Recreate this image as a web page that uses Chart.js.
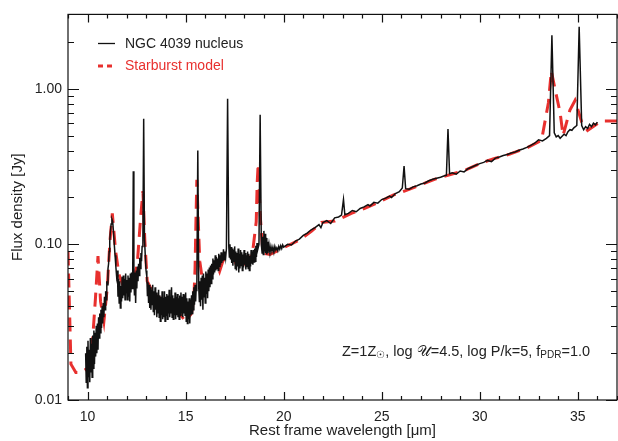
<!DOCTYPE html>
<html>
<head>
<meta charset="utf-8">
<script src="https://cdn.jsdelivr.net/npm/chart.js@4/dist/chart.umd.min.js"></script>
<style>
  html, body { margin: 0; padding: 0; background: #fff; }
</style>
</head>
<body>
<canvas id="spectrum" width="618" height="441"></canvas>
<script>
// NGC 4039 nucleus spectrum (wavelength in micron, flux in Jy)
const waveNGC = [
  9.90, 9.93, 9.96, 9.99, 10.02, 10.05, 10.08, 10.11, 10.14, 10.17,
  10.20, 10.23, 10.26, 10.29, 10.32, 10.35, 10.38, 10.41, 10.44, 10.47,
  10.50, 10.53, 10.56, 10.59, 10.62, 10.65, 10.68, 10.71, 10.74, 10.77,
  10.80, 10.83, 10.86, 10.89, 10.92, 10.95, 10.98, 11.01, 11.04, 11.07,
  11.10, 11.13, 11.16, 11.20, 11.24, 11.28, 11.32, 11.36, 11.40, 11.44,
  11.48, 11.52, 11.55, 11.58, 11.61, 11.64, 11.67, 11.70, 11.73, 11.76,
  11.79, 11.82, 11.85, 11.88, 11.91, 11.94, 11.97, 12.00, 12.03, 12.06,
  12.09, 12.12, 12.15, 12.18, 12.21, 12.24, 12.27, 12.30, 12.33, 12.36,
  12.39, 12.42, 12.45, 12.48, 12.51, 12.54, 12.57, 12.60, 12.63, 12.66,
  12.69, 12.72, 12.75, 12.78, 12.82, 12.86, 12.90, 12.94, 12.98, 13.02,
  13.05, 13.08, 13.11, 13.14, 13.17, 13.20, 13.23, 13.26, 13.29, 13.32,
  13.35, 13.38, 13.41, 13.44, 13.47, 13.50, 13.53, 13.56, 13.59, 13.62,
  13.65, 13.68, 13.71, 13.74, 13.77, 13.80, 13.83, 13.86, 13.89, 13.92,
  13.95, 13.98, 14.01, 14.04, 14.07, 14.10, 14.13, 14.16, 14.19, 14.22,
  14.25, 14.28, 14.31, 14.34, 14.37, 14.40, 14.43, 14.46, 14.49, 14.52,
  14.55, 14.58, 14.61, 14.64, 14.67, 14.70, 14.73, 14.76, 14.79, 14.82,
  14.85, 14.88, 14.91, 14.94, 14.97, 15.00, 15.03, 15.06, 15.09, 15.12,
  15.15, 15.18, 15.21, 15.24, 15.27, 15.30, 15.33, 15.36, 15.39, 15.42,
  15.45, 15.48, 15.51, 15.54, 15.57, 15.62, 15.67, 15.70, 15.73, 15.76,
  15.79, 15.82, 15.85, 15.88, 15.91, 15.94, 15.97, 16.00, 16.03, 16.06,
  16.09, 16.12, 16.15, 16.18, 16.21, 16.24, 16.27, 16.30, 16.33, 16.36,
  16.39, 16.42, 16.45, 16.48, 16.51, 16.54, 16.57, 16.60, 16.63, 16.66,
  16.69, 16.72, 16.75, 16.78, 16.81, 16.84, 16.87, 16.90, 16.93, 16.96,
  17.00, 17.04, 17.08, 17.14, 17.20, 17.23, 17.26, 17.29, 17.32, 17.35,
  17.38, 17.41, 17.44, 17.47, 17.50, 17.53, 17.56, 17.59, 17.62, 17.65,
  17.68, 17.71, 17.74, 17.77, 17.80, 17.83, 17.86, 17.89, 17.92, 17.95,
  17.98, 18.01, 18.04, 18.07, 18.10, 18.13, 18.16, 18.19, 18.22, 18.25,
  18.28, 18.31, 18.34, 18.37, 18.40, 18.43, 18.46, 18.49, 18.52, 18.55,
  18.58, 18.61, 18.64, 18.68, 18.74, 18.80, 18.86, 18.90, 18.93, 18.96,
  18.99, 19.02, 19.05, 19.08, 19.11, 19.14, 19.17, 19.20, 19.25, 19.30,
  19.35, 19.40, 19.45, 19.50, 19.55, 19.60, 19.65, 19.70, 19.75, 19.80,
  19.85, 19.90, 19.95,
  20.0, 20.2, 20.4, 20.6, 20.8, 21.0, 21.2, 21.4, 21.6, 21.8,
  21.9, 22.0, 22.2, 22.4, 22.6, 22.8, 22.95, 23.05, 23.12, 23.3,
  23.5, 23.7, 23.9, 24.1, 24.3, 24.4, 24.6, 24.8, 25.0, 25.2,
  25.4, 25.5, 25.7, 25.9, 26.05, 26.14, 26.22, 26.4, 26.6, 26.8,
  27.0, 27.2, 27.4, 27.6, 27.8, 28.0, 28.2, 28.3, 28.38, 28.46,
  28.6, 28.8, 29.0, 29.2, 29.4, 29.6, 29.8, 30.0, 30.2, 30.4,
  30.6, 30.8, 31.0, 31.2, 31.4, 31.6, 31.8, 32.0, 32.2, 32.4,
  32.6, 32.8, 33.0, 33.2, 33.4, 33.56, 33.68, 33.8, 33.9, 34.0,
  34.1, 34.2, 34.3, 34.4, 34.5, 34.6, 34.7, 34.8, 34.95, 35.07,
  35.2, 35.3, 35.4, 35.5, 35.6, 35.7, 35.8, 35.9, 36.0
];
const fluxNGC = [
  0.020, 0.013, 0.022, 0.012, 0.024, 0.014, 0.021, 0.013, 0.025, 0.015,
  0.023, 0.014, 0.026, 0.016, 0.028, 0.017, 0.027, 0.019, 0.030, 0.020,
  0.031, 0.021, 0.034, 0.025, 0.036, 0.027, 0.038, 0.029, 0.040, 0.031,
  0.042, 0.034, 0.046, 0.038, 0.050, 0.044, 0.058, 0.055, 0.070, 0.075,
  0.090, 0.105, 0.120, 0.135, 0.145, 0.140, 0.120, 0.100, 0.085, 0.072,
  0.062, 0.068, 0.046, 0.060, 0.042, 0.058, 0.039, 0.054, 0.043, 0.062,
  0.045, 0.063, 0.047, 0.060, 0.044, 0.065, 0.049, 0.059, 0.044, 0.063,
  0.046, 0.061, 0.043, 0.065, 0.049, 0.066, 0.052, 0.062, 0.295, 0.060,
  0.047, 0.066, 0.042, 0.068, 0.052, 0.072, 0.058, 0.075, 0.063, 0.082,
  0.070, 0.088, 0.078, 0.097, 0.110, 0.640, 0.110, 0.085, 0.068, 0.062,
  0.047, 0.057, 0.042, 0.055, 0.039, 0.053, 0.038, 0.051, 0.041, 0.055,
  0.037, 0.050, 0.035, 0.053, 0.038, 0.049, 0.034, 0.047, 0.036, 0.051,
  0.034, 0.047, 0.032, 0.046, 0.035, 0.050, 0.033, 0.045, 0.034, 0.050,
  0.032, 0.046, 0.035, 0.048, 0.033, 0.047, 0.036, 0.051, 0.034, 0.046,
  0.036, 0.053, 0.034, 0.047, 0.033, 0.045, 0.035, 0.049, 0.033, 0.046,
  0.035, 0.048, 0.034, 0.045, 0.033, 0.047, 0.035, 0.049, 0.036, 0.046,
  0.034, 0.048, 0.036, 0.047, 0.035, 0.049, 0.032, 0.045, 0.031, 0.043,
  0.033, 0.045, 0.031, 0.044, 0.035, 0.047, 0.036, 0.050, 0.038, 0.053,
  0.041, 0.055, 0.043, 0.053, 0.050, 0.400, 0.052, 0.043, 0.058, 0.040,
  0.061, 0.044, 0.063, 0.038, 0.065, 0.046, 0.061, 0.042, 0.067, 0.048,
  0.065, 0.045, 0.069, 0.050, 0.071, 0.053, 0.073, 0.056, 0.075, 0.060,
  0.081, 0.064, 0.079, 0.066, 0.085, 0.068, 0.083, 0.070, 0.081, 0.068,
  0.087, 0.072, 0.085, 0.074, 0.089, 0.076, 0.087, 0.078, 0.093, 0.080,
  0.090, 0.082, 0.094, 0.860, 0.097, 0.083, 0.100, 0.080, 0.096, 0.076,
  0.094, 0.073, 0.092, 0.078, 0.097, 0.070, 0.090, 0.068, 0.088, 0.072,
  0.094, 0.066, 0.087, 0.070, 0.092, 0.073, 0.089, 0.068, 0.086, 0.071,
  0.092, 0.074, 0.088, 0.069, 0.085, 0.072, 0.090, 0.070, 0.087, 0.068,
  0.084, 0.072, 0.092, 0.075, 0.090, 0.074, 0.092, 0.077, 0.094, 0.078,
  0.098, 0.083, 0.102, 0.093, 0.100, 0.680, 0.100, 0.088, 0.112, 0.086,
  0.122, 0.090, 0.117, 0.088, 0.110, 0.086, 0.104, 0.088, 0.100, 0.088,
  0.097, 0.090, 0.096, 0.089, 0.097, 0.092, 0.095, 0.091, 0.097, 0.093,
  0.098, 0.094, 0.099,
  0.096, 0.100, 0.099, 0.105, 0.108, 0.114, 0.118, 0.124, 0.128, 0.134,
  0.128, 0.138, 0.142, 0.136, 0.148, 0.150, 0.154, 0.194, 0.155, 0.158,
  0.165, 0.162, 0.170, 0.174, 0.180, 0.176, 0.186, 0.184, 0.194, 0.198,
  0.204, 0.200, 0.212, 0.218, 0.230, 0.318, 0.228, 0.226, 0.234, 0.238,
  0.244, 0.248, 0.256, 0.262, 0.266, 0.270, 0.276, 0.278, 0.550, 0.284,
  0.288, 0.282, 0.296, 0.292, 0.306, 0.314, 0.322, 0.330, 0.336, 0.346,
  0.340, 0.358, 0.364, 0.372, 0.378, 0.386, 0.392, 0.402, 0.410, 0.420,
  0.432, 0.446, 0.470, 0.462, 0.480, 0.500, 2.200, 0.520, 0.490, 0.500,
  0.480, 0.495, 0.510, 0.500, 0.530, 0.545, 0.540, 0.560, 0.580, 2.500,
  0.580, 0.545, 0.570, 0.555, 0.590, 0.570, 0.600, 0.585, 0.610
];

// Starburst model
const waveModel = [
  9.00, 9.15, 9.40, 9.65, 10.00, 10.15, 10.24, 10.40, 10.53, 10.66,
  10.83, 11.00, 11.14, 11.26, 11.43, 11.60, 11.77, 12.03, 12.36, 12.53,
  12.70, 12.82, 12.92, 13.04, 13.37, 13.72, 14.15, 14.49, 14.67, 15.00,
  15.30, 15.42, 15.48, 15.52, 15.57, 15.65, 15.72, 15.92, 16.15, 16.32,
  16.57, 16.73, 16.90, 17.15, 17.40, 17.65, 18.00, 18.40, 18.60, 18.65,
  18.70, 18.80, 18.94, 19.30, 19.96, 20.82, 21.41, 21.92, 22.60, 23.45,
  24.13, 24.90, 25.58, 26.26, 27.11, 27.79, 28.64, 29.32, 30.00, 30.68,
  31.53, 32.38, 33.15, 33.50, 33.65, 33.85, 34.10, 34.25, 34.60, 34.86,
  35.20, 35.50, 36.20, 37.00
];
const fluxModel = [
  0.090, 0.017, 0.015, 0.015, 0.016, 0.0175, 0.023, 0.045, 0.084, 0.043,
  0.032, 0.052, 0.105, 0.158, 0.090, 0.064, 0.056, 0.062, 0.061, 0.074,
  0.146, 0.220, 0.105, 0.058, 0.048, 0.045, 0.041, 0.037, 0.036, 0.032,
  0.036, 0.045, 0.070, 0.130, 0.260, 0.134, 0.078, 0.052, 0.056, 0.064,
  0.076, 0.067, 0.078, 0.086, 0.086, 0.070, 0.075, 0.086, 0.140, 0.250,
  0.330, 0.155, 0.088, 0.086, 0.0946, 0.107, 0.121, 0.138, 0.141, 0.158,
  0.170, 0.188, 0.207, 0.222, 0.245, 0.264, 0.284, 0.302, 0.330, 0.354,
  0.380, 0.415, 0.465, 0.810, 1.300, 0.980, 0.700, 0.500, 0.730, 0.840,
  0.610, 0.540, 0.620, 0.620
];

const xTickValues = [10, 15, 20, 25, 30, 35];
const yTickValues = [0.01, 0.1, 1];

const FONT = "'Liberation Sans', Arial, sans-serif";
const TEXT = '#222';
const RED = '#e8302e';

const toPoints = (xs, ys) => xs.map((v, i) => ({x: v, y: ys[i]}));

// inward ticks on all four sides + frame, IDL style
const frameTicks = {
  id: 'frameTicks',
  afterDatasetsDraw(chart) {
    const {ctx, chartArea: a, scales: {x, y}} = chart;
    ctx.save();
    ctx.strokeStyle = '#111';
    ctx.lineWidth = 1.2;
    ctx.strokeRect(a.left, a.top, a.right - a.left, a.bottom - a.top);
    ctx.beginPath();
    for (let v = 9; v <= 37; v++) {
      const px = Math.round(x.getPixelForValue(v)) + 0.5;
      const len = v % 5 === 0 ? 8 : 4;
      ctx.moveTo(px, a.bottom); ctx.lineTo(px, a.bottom - len);
      ctx.moveTo(px, a.top); ctx.lineTo(px, a.top + len);
    }
    yTickValues.forEach(d => {
      for (let m = 1; m <= 9; m++) {
        const v = d * m;
        if (v > y.max) break;
        const py = Math.round(y.getPixelForValue(v)) + 0.5;
        const len = m === 1 ? 11 : 6;
        ctx.moveTo(a.left, py); ctx.lineTo(a.left + len, py);
        ctx.moveTo(a.right, py); ctx.lineTo(a.right - len, py);
      }
    });
    ctx.stroke();
    ctx.restore();
  },
  afterDraw(chart) {
    const ctx = chart.ctx;
    ctx.save();
    // legend
    ctx.lineWidth = 1.3;
    ctx.strokeStyle = '#111';
    ctx.beginPath(); ctx.moveTo(98, 43.5); ctx.lineTo(115, 43.5); ctx.stroke();
    ctx.lineWidth = 3;
    ctx.strokeStyle = RED;
    ctx.setLineDash([5, 4]);
    ctx.beginPath(); ctx.moveTo(98, 66); ctx.lineTo(114, 66); ctx.stroke();
    ctx.setLineDash([]);
    ctx.font = '14px ' + FONT;
    ctx.textBaseline = 'middle';
    ctx.fillStyle = TEXT;
    ctx.fillText('NGC 4039 nucleus', 125, 44);
    ctx.fillStyle = RED;
    ctx.fillText('Starburst model', 125, 66);

    // model parameters
    const parts = [
      {t: 'Z=1Z'}, {t: '\u2609', sub: true}, {t: ', log '}, {t: '\uD835\uDCB0'},
      {t: '=4.5, log P/k=5, f'}, {t: 'PDR', sub: true}, {t: '=1.0'}
    ];
    ctx.textBaseline = 'alphabetic';
    ctx.fillStyle = TEXT;
    let px = 342;
    const base = 355.5;
    parts.forEach(p => {
      ctx.font = (p.sub ? '10px ' : '14.5px ') + FONT;
      ctx.fillText(p.t, px, p.sub ? base + 2 : base);
      px += ctx.measureText(p.t).width;
    });
    ctx.restore();
  }
};

new Chart(document.getElementById('spectrum'), {
  type: 'line',
  data: {
    datasets: [
      {
        label: 'NGC 4039 nucleus',
        data: toPoints(waveNGC, fluxNGC),
        borderColor: '#111',
        borderWidth: 1.5,
        pointRadius: 0,
        tension: 0
      },
      {
        label: 'Starburst model',
        data: toPoints(waveModel, fluxModel),
        borderColor: RED,
        borderWidth: 3,
        borderDash: [14, 8],
        pointRadius: 0,
        tension: 0
      }
    ]
  },
  options: {
    responsive: false,
    animation: false,
    devicePixelRatio: 1,
    layout: {padding: {top: 10, right: 1, left: 0, bottom: 0}},
    plugins: {legend: {display: false}, tooltip: {enabled: false}},
    scales: {
      x: {
        type: 'linear',
        min: 9,
        max: 37,
        afterBuildTicks: s => { s.ticks = xTickValues.map(v => ({value: v})); },
        afterFit: s => { s.height = 41; },
        grid: {display: false, drawTicks: false},
        border: {display: false},
        ticks: {color: TEXT, font: {family: FONT, size: 14}, padding: 9, maxRotation: 0, autoSkip: false},
        title: {display: true, text: 'Rest frame wavelength [\u03bcm]', color: TEXT,
                font: {family: FONT, size: 15}, padding: {top: 0, bottom: 1}}
      },
      y: {
        type: 'logarithmic',
        min: 0.01,
        max: 3,
        afterBuildTicks: s => { s.ticks = yTickValues.map(v => ({value: v})); },
        afterFit: s => { s.width = 68; },
        grid: {display: false, drawTicks: false},
        border: {display: false},
        ticks: {color: TEXT, font: {family: FONT, size: 14}, padding: 6,
                callback: v => Number(v).toFixed(2)},
        title: {display: true, text: 'Flux density [Jy]', color: TEXT,
                font: {family: FONT, size: 15}, padding: {top: 9, bottom: 0}}
      }
    }
  },
  plugins: [frameTicks]
});
</script>
</body>
</html>
